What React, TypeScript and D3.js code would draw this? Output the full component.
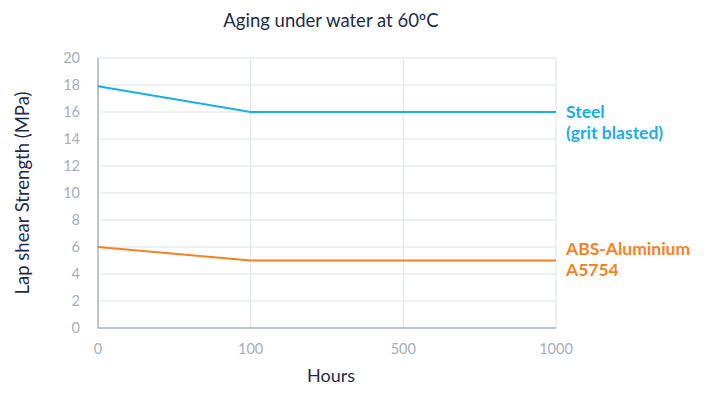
import React from "react";
import * as d3 from "d3";

const hours = ["0", "100", "500", "1000"];
const steelValues = [17.9, 16, 16, 16];
const absValues = [6.0, 5.0, 5.0, 5.0];
const yTicks = [0, 2, 4, 6, 8, 10, 12, 14, 16, 18, 20];
const steelLabel = ["Steel", "(grit blasted)"];
const absLabel = ["ABS-Aluminium", "A5754"];

const W = 714, H = 399;
const margin = { left: 98, right: 158, top: 58, bottom: 71 };

export default function App() {
  const x = d3.scalePoint<string>().domain(hours).range([margin.left, W - margin.right]);
  const y = d3.scaleLinear().domain([0, 20]).range([H - margin.bottom, margin.top]);
  const line = d3.line<number>().x((_, i) => x(hours[i])!).y((d) => y(d));
  const font = "Lato, 'Open Sans', sans-serif";
  const blue = "#1aaee8";
  const orange = "#f5821f";
  const x0 = x(hours[0])!, x1 = x(hours[hours.length - 1])!;
  return (
    <svg width={W} height={H} style={{ position: "absolute", left: 0, top: 0, fontFamily: font }}>
      <rect width={W} height={H} fill="#fff" />
      <text x={331} y={27} textAnchor="middle" fontSize={18.5} fill="#1d2d4c">Aging under water at 60ºC</text>
      {yTicks.map((t) => (
        <g key={t}>
          <line x1={x0} x2={x1} y1={y(t)} y2={y(t)} stroke="#dce3e8" strokeWidth={1} />
          <text x={80} y={y(t) + 5} textAnchor="end" fontSize={14.5} fill="#a3b0ba">{t}</text>
        </g>
      ))}
      {hours.map((h) => (
        <g key={h}>
          <line x1={x(h)} x2={x(h)} y1={y(0)} y2={y(20)} stroke="#dce3e8" strokeWidth={1} />
          <text x={x(h)} y={354} textAnchor="middle" fontSize={14.5} fill="#a3b0ba">{h}</text>
        </g>
      ))}
      <line x1={x0} x2={x0} y1={y(0)} y2={y(20)} stroke="#aab7c1" strokeWidth={1.5} />
      <line x1={x0} x2={x1} y1={y(0)} y2={y(0)} stroke="#aab7c1" strokeWidth={1.5} />
      <path d={line(steelValues)!} fill="none" stroke={blue} strokeWidth={2} />
      <path d={line(absValues)!} fill="none" stroke={orange} strokeWidth={2} />
      <text x={331} y={382} textAnchor="middle" fontSize={18} fill="#1d2d4c">Hours</text>
      <text transform={`translate(29,${y(10)}) rotate(-90)`} textAnchor="middle" fontSize={18.5} fill="#1d2d4c">Lap shear Strength (MPa)</text>
      {steelLabel.map((s, i) => (
        <text key={s} x={566} y={y(steelValues[3]) + 6 + i * 21} fontSize={17.5} fontWeight={700} fill={blue}>{s}</text>
      ))}
      {absLabel.map((s, i) => (
        <text key={s} x={566} y={y(absValues[3]) - 6 + i * 21} fontSize={17.5} fontWeight={700} fill={orange}>{s}</text>
      ))}
    </svg>
  );
}
